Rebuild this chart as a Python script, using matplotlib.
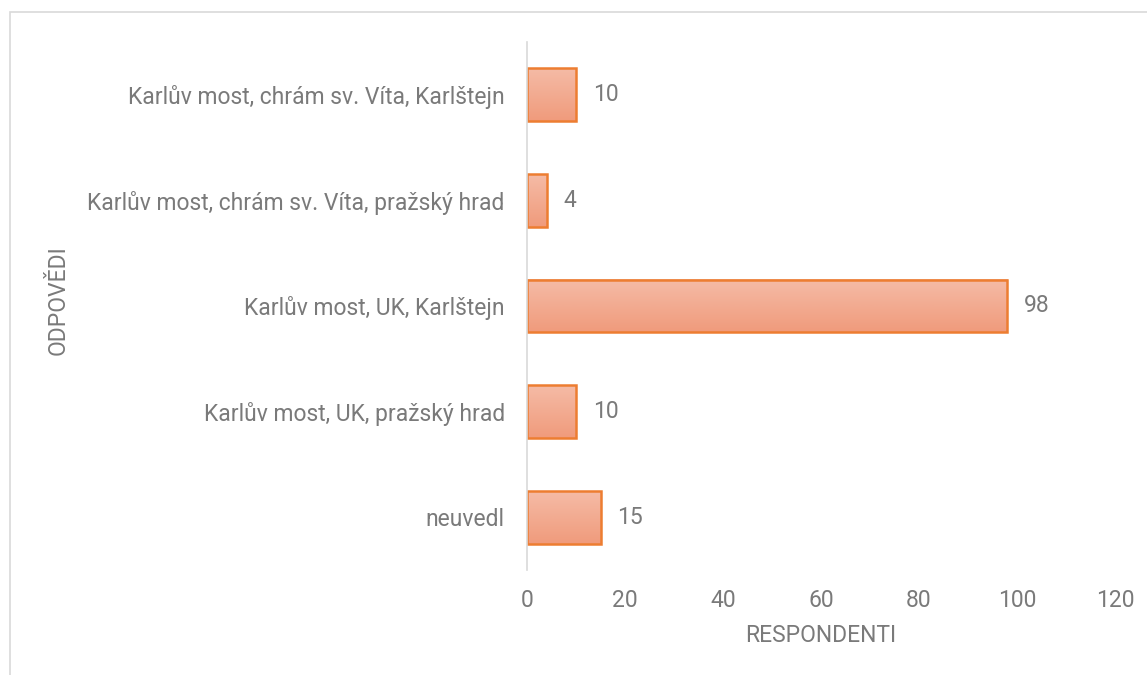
import matplotlib
matplotlib.use("Agg")
import matplotlib.pyplot as plt
import numpy as np
from matplotlib.patches import Rectangle
from matplotlib.colors import LinearSegmentedColormap

categories = ["Karlův most, chrám sv. Víta, Karlštejn",
              "Karlův most, chrám sv. Víta, pražský hrad",
              "Karlův most, UK, Karlštejn",
              "Karlův most, UK, pražský hrad",
              "neuvedl"]
values = [10, 4, 98, 10, 15]
xticks = [0, 20, 40, 60, 80, 100, 120]

plt.rcParams['font.family'] = ['Roboto', 'DejaVu Sans']
gray = '#7a7a7a'
fs = 16.5

fig = plt.figure(figsize=(11.47, 6.75), dpi=100)
W, H = 1147, 675
ax = fig.add_axes([527 / W, 1 - 570 / H, (1115 - 527) / W, (570 - 42) / H])

# frame
fig.patches.append(Rectangle((10 / W, -0.1), 1.2, (1 - 12 / H) + 0.1, transform=fig.transFigure,
                             fill=False, edgecolor='#d9d9d9', linewidth=1.2))

y = np.arange(len(categories))
bars = ax.barh(y, values, height=0.5, facecolor='none', edgecolor='#ED7D31', linewidth=1.8, zorder=3)

grad = np.linspace(0, 1, 100).reshape(-1, 1)
cmap = LinearSegmentedColormap.from_list('g', ['#F5BBA6', '#F09B7C'])
for b in bars:
    x0, y0 = b.get_x(), b.get_y()
    w, h = b.get_width(), b.get_height()
    im = ax.imshow(grad, extent=[x0, x0 + w, y0 + h, y0], cmap=cmap, aspect='auto', zorder=2,
                   interpolation='bilinear')
ax.set_xlim(0, 120)
ax.set_ylim(len(categories) - 0.5, -0.5)

for yi, v in zip(y, values):
    ax.annotate(str(v), (v, yi), xytext=(12, 0), textcoords='offset points', va='center', ha='left',
                fontsize=fs, color=gray)

ax.set_yticks(y)
ax.set_yticklabels(categories)
ax.set_xticks(xticks)
ax.tick_params(axis='both', length=0, labelsize=fs, labelcolor=gray)
ax.tick_params(axis='y', pad=16)
ax.tick_params(axis='x', pad=14)
for s in ['top', 'right', 'bottom']:
    ax.spines[s].set_visible(False)
ax.spines['left'].set_color('#d9d9d9')
ax.spines['left'].set_linewidth(1.2)
ax.spines['left'].set_zorder(4)

ax.set_xlabel('RESPONDENTI', fontsize=fs, color=gray, labelpad=8)
fig.text(58 / W, 1 - 300 / H, 'ODPOVĚDI', rotation=90, ha='center', va='center', fontsize=fs, color=gray)

fig.savefig('out.png', dpi=100)
